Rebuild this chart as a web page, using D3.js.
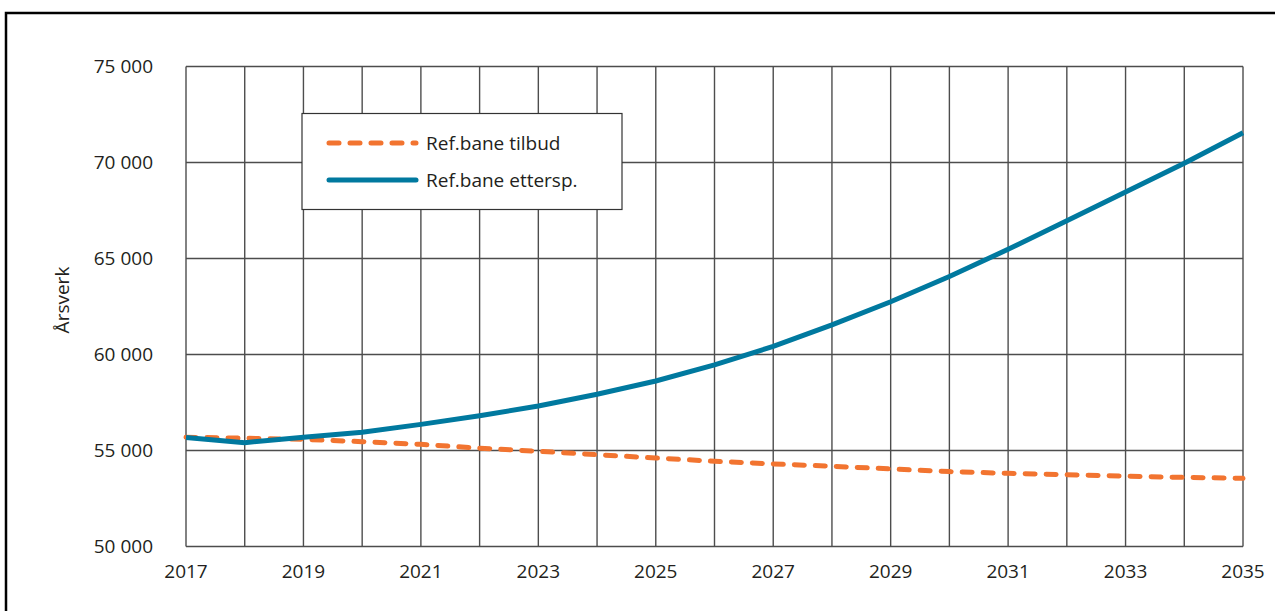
<!DOCTYPE html>
<html>
<head>
<meta charset="utf-8">
<script src="https://cdn.jsdelivr.net/npm/d3@7"></script>
<style>
  html, body { margin: 0; padding: 0; background: #fff; }
  svg { display: block; }
  text { font-family: "Open Sans", "Noto Sans", sans-serif; fill: #231f20; }
</style>
</head>
<body>
<svg id="chart" width="1275" height="611"></svg>
<script>
const years = d3.range(2017, 2036);
const tilbud = [55690, 55640, 55580, 55460, 55320, 55120, 54960, 54780, 54610, 54440, 54300, 54180, 54040, 53900, 53810, 53740, 53660, 53600, 53550];
const ettersp = [55680, 55410, 55690, 55950, 56360, 56810, 57320, 57930, 58620, 59460, 60420, 61540, 62750, 64060, 65480, 66960, 68460, 69960, 71550];
const yTicks = [50000, 55000, 60000, 65000, 70000, 75000];
const xLabelYears = [2017, 2019, 2021, 2023, 2025, 2027, 2029, 2031, 2033, 2035];
const seriesNames = ["Ref.bane tilbud", "Ref.bane ettersp."];
const yTitle = "Årsverk";

(function () {
const svg = d3.select("#chart");
const pl = 186, pr = 1243, pt = 66.5, pb = 546.5;
const x = d3.scaleLinear().domain([2017, 2035]).range([pl, pr]);
const y = d3.scaleLinear().domain([50000, 75000]).range([pb, pt]);

const orange = "#f27430", blue = "#00799f", grid = "#4d4d4d";

// outer frame
svg.append("path").attr("d", "M6,611V13H1275").attr("fill", "none").attr("stroke", "#000").attr("stroke-width", 2.5);

// gridlines
const g = svg.append("g");
g.selectAll("line.v").data(years).enter().append("line")
  .attr("x1", d => x(d)).attr("x2", d => x(d)).attr("y1", pt).attr("y2", pb)
  .attr("stroke", grid).attr("stroke-width", 1.4);
g.selectAll("line.h").data(yTicks).enter().append("line")
  .attr("x1", pl).attr("x2", pr).attr("y1", d => y(d)).attr("y2", d => y(d))
  .attr("stroke", grid).attr("stroke-width", 1.4);

// y tick labels
const fmt = v => d3.format(",")(v).replace(/,/g, " ");
svg.selectAll("text.yl").data(yTicks).enter().append("text")
  .attr("x", 153).attr("y", d => y(d)).attr("dy", "0.35em").attr("text-anchor", "end")
  .attr("font-size", 19).text(d => fmt(d));

// x labels
svg.selectAll("text.xl").data(xLabelYears).enter().append("text")
  .attr("x", d => x(d)).attr("y", 578).attr("text-anchor", "middle")
  .attr("font-size", 19).text(d => d);

// y title
svg.append("text").attr("transform", "translate(69,300) rotate(-90)")
  .attr("text-anchor", "middle").attr("font-size", 19).text(yTitle);

// lines
const line = d3.line().x((d, i) => x(years[i])).y(d => y(d));
svg.append("path").datum(tilbud).attr("d", line).attr("fill", "none")
  .attr("stroke", orange).attr("stroke-width", 5).attr("stroke-linecap", "round")
  .attr("stroke-dasharray", "10,11");
svg.append("path").datum(ettersp).attr("d", line).attr("fill", "none")
  .attr("stroke", blue).attr("stroke-width", 5);

// legend
const lg = svg.append("g");
lg.append("rect").attr("x", 302).attr("y", 113.5).attr("width", 320).attr("height", 96)
  .attr("fill", "#fff").attr("stroke", "#333").attr("stroke-width", 1.2);
const legendItems = [
  { name: seriesNames[0], color: orange, dash: "10,11", cy: 143 },
  { name: seriesNames[1], color: blue, dash: null, cy: 180 }
];
legendItems.forEach(it => {
  lg.append("line").attr("x1", 329).attr("x2", 416).attr("y1", it.cy).attr("y2", it.cy)
    .attr("stroke", it.color).attr("stroke-width", 5).attr("stroke-linecap", "round")
    .attr("stroke-dasharray", it.dash);
  lg.append("text").attr("x", 426).attr("y", it.cy).attr("dy", "0.35em")
    .attr("font-size", 19).text(it.name);
});
})();
</script>
</body>
</html>
